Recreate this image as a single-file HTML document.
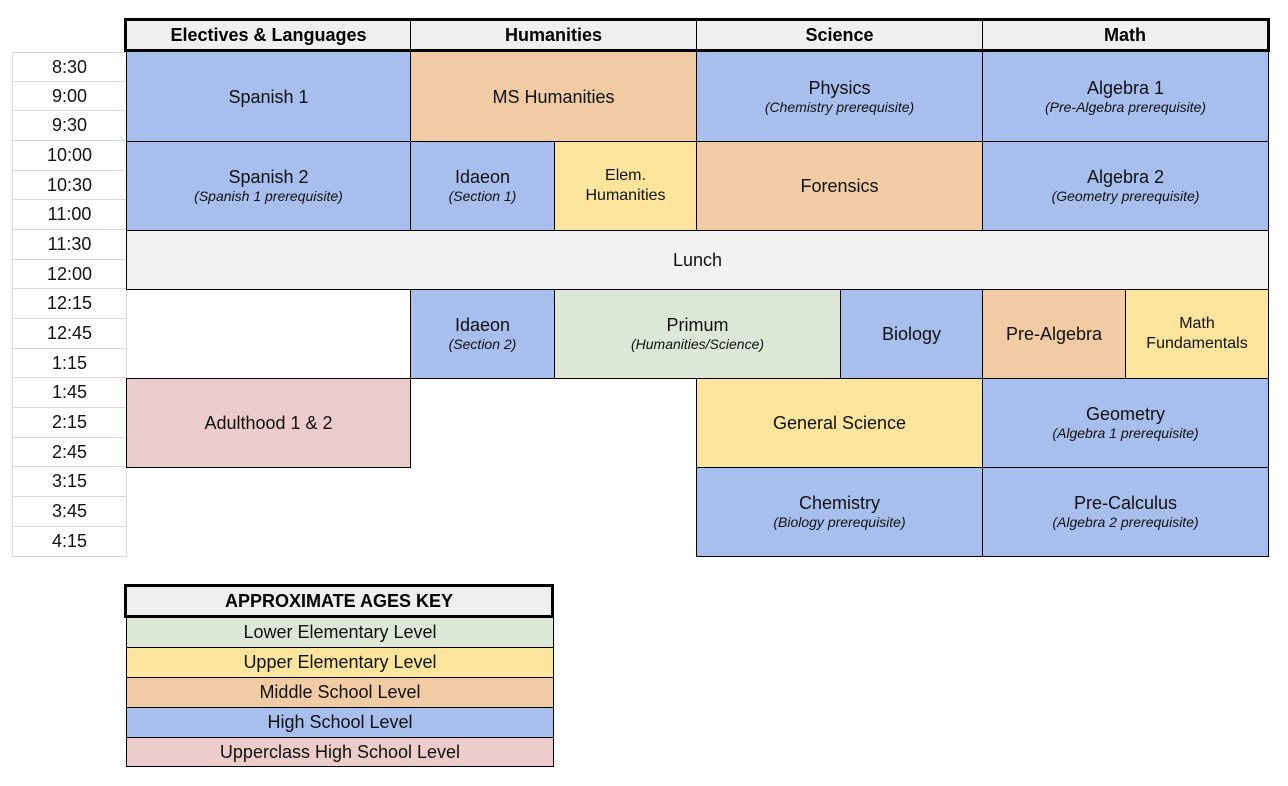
<!DOCTYPE html>
<html><head><style>
body{margin:0;width:1288px;height:786px;background:#fff;position:relative;font-family:"Liberation Sans",sans-serif;overflow:hidden}
.c{position:absolute;box-sizing:border-box;border:1px solid #000;display:flex;flex-direction:column;align-items:center;justify-content:center;text-align:center;font-size:18px;color:#111;line-height:20px}
.c i{font-size:14px;line-height:18px}
.b{background:#a8bfed}.o{background:#f1cba3}.y{background:#fbe59d}.g{background:#dce8d5}.p{background:#eccccb}.l{background:#f2f2f2}
.h{position:absolute;box-sizing:border-box;border:3px solid #000;background:#efefef;font-weight:bold;font-size:18px;display:flex;align-items:center;justify-content:center}
.t{position:absolute;left:12px;width:115px;box-sizing:border-box;border:1px solid #d9d9d9;border-top:none;font-size:18px;display:flex;align-items:center;justify-content:center;color:#111}
.k{position:absolute;left:126px;width:428px;box-sizing:border-box;border:1px solid #000;font-size:18px;display:flex;align-items:center;justify-content:center;color:#111}
</style></head><body>
<div class="h" style="left:124px;top:18px;width:289px;height:34px">Electives &amp; Languages</div>
<div class="h" style="left:410px;top:18px;width:289px;height:34px;border-left-width:1px">Humanities</div>
<div class="h" style="left:696px;top:18px;width:289px;height:34px;border-left-width:1px">Science</div>
<div class="h" style="left:982px;top:18px;width:288px;height:34px;border-left-width:1px">Math</div>

<div class="t" style="top:52px;height:30px;border-top:1px solid #d9d9d9">8:30</div>
<div class="t" style="top:82px;height:29px">9:00</div>
<div class="t" style="top:111px;height:30px">9:30</div>
<div class="t" style="top:141px;height:30px">10:00</div>
<div class="t" style="top:171px;height:29px">10:30</div>
<div class="t" style="top:200px;height:30px">11:00</div>
<div class="t" style="top:230px;height:30px">11:30</div>
<div class="t" style="top:260px;height:29px">12:00</div>
<div class="t" style="top:289px;height:30px">12:15</div>
<div class="t" style="top:319px;height:30px">12:45</div>
<div class="t" style="top:349px;height:29px">1:15</div>
<div class="t" style="top:378px;height:30px">1:45</div>
<div class="t" style="top:408px;height:30px">2:15</div>
<div class="t" style="top:438px;height:29px">2:45</div>
<div class="t" style="top:467px;height:30px">3:15</div>
<div class="t" style="top:497px;height:30px">3:45</div>
<div class="t" style="top:527px;height:30px">4:15</div>

<div class="c b" style="left:126px;top:51px;width:285px;height:91px">Spanish 1</div>
<div class="c o" style="left:410px;top:51px;width:287px;height:91px">MS Humanities</div>
<div class="c b" style="left:696px;top:51px;width:287px;height:91px">Physics<i>(Chemistry prerequisite)</i></div>
<div class="c b" style="left:982px;top:51px;width:287px;height:91px">Algebra 1<i>(Pre-Algebra prerequisite)</i></div>

<div class="c b" style="left:126px;top:141px;width:285px;height:90px">Spanish 2<i>(Spanish 1 prerequisite)</i></div>
<div class="c b" style="left:410px;top:141px;width:145px;height:90px">Idaeon<i>(Section 1)</i></div>
<div class="c y" style="left:554px;top:141px;width:143px;height:90px;font-size:16px">Elem.<br>Humanities</div>
<div class="c o" style="left:696px;top:141px;width:287px;height:90px">Forensics</div>
<div class="c b" style="left:982px;top:141px;width:287px;height:90px">Algebra 2<i>(Geometry prerequisite)</i></div>

<div class="c l" style="left:126px;top:230px;width:1143px;height:60px">Lunch</div>

<div class="c b" style="left:410px;top:289px;width:145px;height:90px">Idaeon<i>(Section 2)</i></div>
<div class="c g" style="left:554px;top:289px;width:287px;height:90px">Primum<i>(Humanities/Science)</i></div>
<div class="c b" style="left:840px;top:289px;width:143px;height:90px">Biology</div>
<div class="c o" style="left:982px;top:289px;width:144px;height:90px">Pre-Algebra</div>
<div class="c y" style="left:1125px;top:289px;width:144px;height:90px;font-size:16px">Math<br>Fundamentals</div>

<div class="c p" style="left:126px;top:378px;width:285px;height:90px">Adulthood 1 &amp; 2</div>
<div class="c y" style="left:696px;top:378px;width:287px;height:90px">General Science</div>
<div class="c b" style="left:982px;top:378px;width:287px;height:90px">Geometry<i>(Algebra 1 prerequisite)</i></div>

<div class="c b" style="left:696px;top:467px;width:287px;height:90px">Chemistry<i>(Biology prerequisite)</i></div>
<div class="c b" style="left:982px;top:467px;width:287px;height:90px">Pre-Calculus<i>(Algebra 2 prerequisite)</i></div>

<div class="h" style="left:124px;top:584px;width:430px;height:34px">APPROXIMATE AGES KEY</div>
<div class="k g" style="top:617px;height:31px">Lower Elementary Level</div>
<div class="k y" style="top:647px;height:31px">Upper Elementary Level</div>
<div class="k o" style="top:677px;height:31px">Middle School Level</div>
<div class="k b" style="top:707px;height:31px">High School Level</div>
<div class="k p" style="top:737px;height:30px">Upperclass High School Level</div>
</body></html>
